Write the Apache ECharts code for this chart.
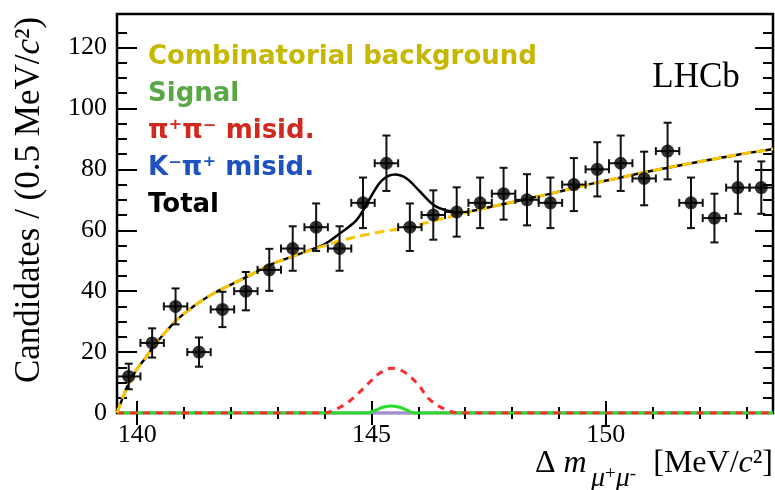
<!DOCTYPE html>
<html><head><meta charset="utf-8">
<script src="https://cdn.jsdelivr.net/npm/echarts@6/dist/echarts.min.js"></script>
<style>html,body{margin:0;padding:0;background:#fff}#c{width:775px;height:490px}</style>
</head><body><div id="c"></div>
<script>
// ---- data ----
const binCenters = [139.82,140.32,140.82,141.32,141.82,142.32,142.82,143.32,143.82,144.32,144.82,145.32,145.82,146.32,146.82,147.32,147.82,148.32,148.82,149.32,149.82,150.32,150.82,151.32,151.82,152.32,152.82,153.32];
const counts = [12,23,35,20,34,40,47,54,61,54,69,82,61,65,66,69,72,70,69,75,80,82,77,86,69,64,74,74];
const countErr = [4.2,4.8,5.9,4.8,5.8,6.3,6.9,7.3,7.8,7.3,8.3,9.1,7.8,8.1,8.1,8.3,8.5,8.4,8.3,8.7,8.9,9.1,8.8,9.3,8.3,8.0,8.6,8.6];
const binHalfWidth = 0.25;

const bkgX = [139.57,139.7,139.82,140.0,140.15,140.35,140.6,140.85,141.1,141.35,141.6,141.85,142.35,142.85,143.35,143.85,144.4,144.9,145.4,145.85,146.35,146.85,147.35,147.85,148.35,148.85,149.35,149.85,150.35,150.85,151.35,151.85,152.35,152.85,153.35,153.57];
const bkgY = [0,5.3,9.7,14.5,17.5,21.8,26.5,30.6,33.8,36.6,39,41,44.8,48.7,51.6,54.2,56.8,58.6,60,61.2,63.2,65.1,67,68.7,70.4,72.1,74,75.8,77.4,79.1,80.6,82.1,83.5,84.9,86.1,86.7];

const totalX = [139.57,139.7,139.82,140.0,140.15,140.35,140.6,140.85,141.1,141.35,141.6,141.85,142.35,142.85,143.35,143.7,144.0,144.33,144.69,144.97,145.22,145.5,145.75,146.03,146.32,146.6,146.89,147.35,147.85,148.35,148.85,149.35,149.85,150.35,150.85,151.35,151.85,152.35,152.85,153.35,153.57];
const totalY = [0,5.3,9.7,14.5,17.5,21.8,26.5,30.6,33.8,36.6,39,41,44.8,48.7,51.6,53.6,55.4,59,63.5,70.5,76.3,78.3,77,72.8,68.4,66.5,65.8,67,68.7,70.4,72.1,74,75.8,77.4,79.1,80.6,82.1,83.5,84.9,86.1,86.7];

const pipiX = [139.57,144.0,144.2,144.47,144.7,144.9,145.18,145.43,145.68,145.97,146.25,146.6,146.89,153.57];
const pipiY = [0,0,0.9,3.2,6.2,9.2,13.1,14.7,13.6,9.8,4.3,1.0,0,0];

const sigX = [139.57,144.9,145.1,145.25,145.42,145.6,145.75,145.9,153.57];
const sigY = [0,0,1.0,1.9,2.3,1.9,1.0,0,0];

const kpiX = [139.57,153.57];
const kpiY = [0,0];

const xMajor = [140,145,150];
const xMinor = [141,142,143,144,146,147,148,149,151,152,153];
const yMajor = [0,20,40,60,80,100,120];
const yMinor = [5,10,15,25,30,35,45,50,55,65,70,75,85,90,95,105,110,115,125];

const legendItems = ['Combinatorial background','Signal','π⁺π⁻ misid.','K⁻π⁺ misid.','Total'];
const legendColors = ['#c6b800','#5aa845','#d02a1e','#1d52c0','#000000'];

// ---- chart ----
const X_MIN = 139.57, X_MAX = 153.57, Y_MIN = 0, Y_MAX = 131;
const zip = (xs, ys) => xs.map((x, i) => [x, ys[i]]);
const serif = 'Liberation Serif';

function xAx(pos, vals, len, labels) {
  return {
    type: 'value', min: X_MIN, max: X_MAX, position: pos,
    axisLine: {show: false}, splitLine: {show: false},
    axisTick: {show: true, inside: true, length: len, customValues: vals, lineStyle: {color: '#000', width: 2}},
    axisLabel: labels ? {show: true, customValues: vals, fontFamily: serif, fontSize: 26, color: '#000', margin: 9} : {show: false}
  };
}
function yAx(pos, vals, len, labels) {
  return {
    type: 'value', min: Y_MIN, max: Y_MAX, position: pos,
    axisLine: {show: false}, splitLine: {show: false},
    axisTick: {show: true, inside: true, length: len, customValues: vals, lineStyle: {color: '#000', width: 2}},
    axisLabel: labels ? {show: true, customValues: vals, fontFamily: serif, fontSize: 26, color: '#000', margin: 10} : {show: false}
  };
}

const chart = echarts.init(document.getElementById('c'), null, {renderer: 'canvas'});

const graphics = [];
legendItems.forEach((t, i) => {
  graphics.push({
    type: 'text', x: 148, y: 57 + i * 37, z: 100,
    style: {text: t, fill: legendColors[i], fontFamily: 'DejaVu Sans', fontWeight: 'bold', fontSize: 26,
            align: 'left', textAlign: 'left', verticalAlign: 'middle', textVerticalAlign: 'middle'}
  });
});
graphics.push({
  type: 'text', x: 696, y: 78, z: 100,
  style: {text: 'LHCb', fill: '#000', fontFamily: serif, fontSize: 35,
          align: 'center', textAlign: 'center', verticalAlign: 'middle', textVerticalAlign: 'middle'}
});
graphics.push({
  type: 'text', x: 30, y: 200, rotation: Math.PI / 2, z: 100,
  style: {text: '{a|Candidates / (0.5 MeV/}{b|c}{a|²)}', fill: '#000',
          align: 'center', textAlign: 'center', verticalAlign: 'middle', textVerticalAlign: 'middle',
          rich: {a: {fontFamily: serif, fontSize: 35, fill: '#000', color: '#000'},
                 b: {fontFamily: serif, fontSize: 35, fontStyle: 'italic', fill: '#000', color: '#000'}}}
});
graphics.push({
  type: 'text', x: 535, y: 464, z: 100,
  style: {text: '{a|Δ }{b|m}', fill: '#000', align: 'left', textAlign: 'left', verticalAlign: 'middle', textVerticalAlign: 'middle',
          rich: {a: {fontFamily: serif, fontSize: 32}, b: {fontFamily: serif, fontSize: 32, fontStyle: 'italic'}}}
});
graphics.push({
  type: 'text', x: 591, y: 479, z: 100,
  style: {text: '{m|μ}{s|+}{m|μ}{s|-}', fill: '#000', align: 'left', textAlign: 'left', verticalAlign: 'middle', textVerticalAlign: 'middle',
          rich: {m: {fontFamily: serif, fontStyle: 'italic', fontSize: 28, verticalAlign: 'bottom', lineHeight: 28},
                 s: {fontFamily: serif, fontSize: 19, verticalAlign: 'top', lineHeight: 19}}}
});
graphics.push({
  type: 'text', x: 773, y: 464, z: 100,
  style: {text: '{a|[MeV/}{b|c}{a|²]}', fill: '#000', align: 'right', textAlign: 'right', verticalAlign: 'middle', textVerticalAlign: 'middle',
          rich: {a: {fontFamily: serif, fontSize: 32}, b: {fontFamily: serif, fontSize: 32, fontStyle: 'italic'}}}
});

const lineBase = {type: 'line', xAxisIndex: 0, yAxisIndex: 0, showSymbol: false, symbol: 'none', smooth: 0.35, animation: false, silent: true};

chart.setOption({
  animation: false,
  grid: {left: 117, right: 2, top: 14, bottom: 77, show: true, borderColor: '#000', borderWidth: 2.5, backgroundColor: 'rgba(0,0,0,0)'},
  xAxis: [xAx('bottom', xMajor, 12, true), xAx('bottom', xMinor, 6, false), xAx('top', xMajor, 12, false), xAx('top', xMinor, 6, false)],
  yAxis: [yAx('left', yMajor, 20, true), yAx('left', yMinor, 10, false), yAx('right', yMajor, 18, false), yAx('right', yMinor, 10, false)],
  graphic: graphics,
  series: [
    Object.assign({}, lineBase, {name: 'K-pi+ misid.', z: 2, data: zip(kpiX, kpiY), lineStyle: {color: '#a78be0', width: 2.5}}),
    Object.assign({}, lineBase, {name: 'Signal', z: 3, data: zip(sigX, sigY), lineStyle: {color: '#27dd27', width: 3}}),
    Object.assign({}, lineBase, {name: 'pi+pi- misid.', z: 3, data: zip(pipiX, pipiY), lineStyle: {color: '#ff2a2a', width: 3, type: [7, 6]}}),
    Object.assign({}, lineBase, {name: 'Total', z: 4, data: zip(totalX, totalY), lineStyle: {color: '#000', width: 2.5}}),
    Object.assign({}, lineBase, {name: 'Combinatorial background', z: 5, data: zip(bkgX, bkgY), lineStyle: {color: '#f7c600', width: 3, type: [10, 5]}}),
    {
      type: 'custom', name: 'errors', z: 6, animation: false, silent: true, clip: true,
      data: binCenters.map((x, i) => [x, counts[i], countErr[i]]),
      encode: {x: 0, y: 1},
      renderItem: function (params, api) {
        const x = api.value(0), y = api.value(1), e = api.value(2);
        const top = api.coord([x, y + e]), bot = api.coord([x, y - e]);
        const l = api.coord([x - binHalfWidth, y]), r = api.coord([x + binHalfWidth, y]);
        const st = {stroke: '#111', lineWidth: 2};
        const cap = 4;
        return {type: 'group', children: [
          {type: 'line', shape: {x1: top[0], y1: top[1], x2: bot[0], y2: bot[1]}, style: st},
          {type: 'line', shape: {x1: top[0] - cap, y1: top[1], x2: top[0] + cap, y2: top[1]}, style: st},
          {type: 'line', shape: {x1: bot[0] - cap, y1: bot[1], x2: bot[0] + cap, y2: bot[1]}, style: st},
          {type: 'line', shape: {x1: l[0], y1: l[1], x2: r[0], y2: r[1]}, style: st},
          {type: 'line', shape: {x1: l[0], y1: l[1] - cap, x2: l[0], y2: l[1] + cap}, style: st},
          {type: 'line', shape: {x1: r[0], y1: r[1] - cap, x2: r[0], y2: r[1] + cap}, style: st}
        ]};
      }
    },
    {type: 'scatter', name: 'Data', z: 7, symbol: 'circle', symbolSize: 13, itemStyle: {color: '#000'}, animation: false, silent: true,
     data: zip(binCenters, counts)}
  ]
});
</script></body></html>
